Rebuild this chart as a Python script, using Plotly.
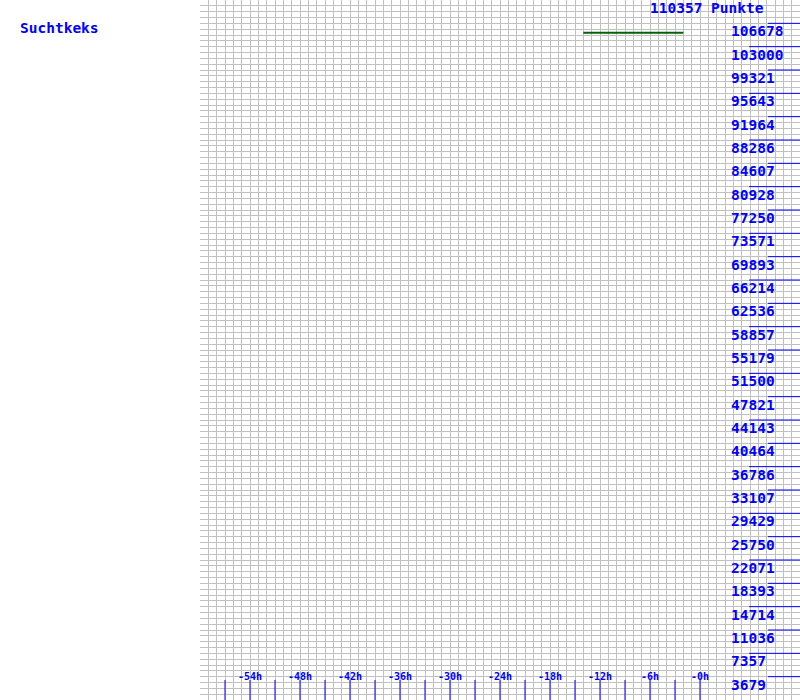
import plotly.graph_objects as go

# ---- data ----
player_name = "Suchtkeks"
max_points = 110357
total_label = "110357 Punkte"

y_tick_values = [3679, 7357, 11036, 14714, 18393, 22071, 25750, 29429, 33107, 36786,
                 40464, 44143, 47821, 51500, 55179, 58857, 62536, 66214, 69893, 73571,
                 77250, 80928, 84607, 88286, 91964, 95643, 99321, 103000, 106678]
y_tick_labels = [str(v) for v in y_tick_values]

x_tick_hours = [-57, -54, -51, -48, -45, -42, -39, -36, -33, -30, -27, -24, -21, -18,
                -15, -12, -9, -6, -3, 0]
x_label_hours = [-54, -48, -42, -36, -30, -24, -18, -12, -6, 0]
x_label_texts = ["-54h", "-48h", "-42h", "-36h", "-30h", "-24h", "-18h", "-12h", "-6h", "-0h"]

series_hours = [-14, -13, -12, -11, -10, -9, -8, -7, -6, -5, -4, -3, -2]
series_points = [105200, 105200, 105200, 105200, 105200, 105200, 105200,
                 105200, 105200, 105200, 105200, 105200, 105200]

# ---- styling ----
BLUE = "#0000ff"
GREEN = "#006400"
GRID = "#c0c0c0"
FONT = "DejaVu Sans Mono"
X_MIN, X_MAX = -60, 12

fig = go.Figure()

# blue horizontal markers on the right side (alternating lengths)
lx, ly = [], []
for i, v in enumerate(y_tick_values):
    start = 8.15 if i % 2 == 0 else 5.9
    lx += [start, X_MAX, None]
    ly += [v, v, None]
fig.add_trace(go.Scatter(x=lx, y=ly, mode="lines", line=dict(color=BLUE, width=1),
                         hoverinfo="skip", showlegend=False))

# data line
fig.add_trace(go.Scatter(x=series_hours, y=series_points, mode="lines",
                         line=dict(color=GREEN, width=2), showlegend=False))

shapes = []
for h in x_tick_hours:
    shapes.append(dict(type="line", xref="x", yref="paper", x0=h, x1=h, y0=0, y1=20 / 700,
                       line=dict(color=BLUE, width=1)))

big = dict(family=FONT, size=14.5, color=BLUE, weight="bold")
small = dict(family=FONT, size=10, color=BLUE, weight="bold")

annotations = []
for v, t in zip(y_tick_values, y_tick_labels):
    annotations.append(dict(x=3.45, y=v, xref="x", yref="y", text=t, showarrow=False,
                            xanchor="left", yanchor="top", yshift=2, font=big))
for h, t in zip(x_label_hours, x_label_texts):
    annotations.append(dict(x=h, y=0, xref="x", yref="paper", text=t, showarrow=False,
                            xanchor="center", yanchor="bottom", yshift=16, font=small))
annotations.append(dict(x=(707 - 200) / 600, y=1.0, xref="paper", yref="paper",
                        text=total_label, showarrow=False, xanchor="center", yanchor="top",
                        yshift=2, font=big))
annotations.append(dict(x=(18 - 200) / 600, y=1 - 28 / 700, xref="paper", yref="paper",
                        text=player_name, showarrow=False, xanchor="left", yanchor="middle",
                        font=big))

fig.update_layout(
    width=800, height=700,
    margin=dict(l=200, r=0, t=0, b=0, pad=0),
    paper_bgcolor="white", plot_bgcolor="white",
    shapes=shapes, annotations=annotations,
    xaxis=dict(range=[X_MIN, X_MAX], tick0=0, dtick=1, showgrid=True, gridcolor=GRID,
               gridwidth=1, zeroline=False, showticklabels=False, ticks="", fixedrange=True),
    yaxis=dict(range=[0, max_points], tick0=0, dtick=max_points / 120, showgrid=True,
               gridcolor=GRID, gridwidth=1, zeroline=False, showticklabels=False, ticks="",
               fixedrange=True),
)

fig.write_html("out.html")
